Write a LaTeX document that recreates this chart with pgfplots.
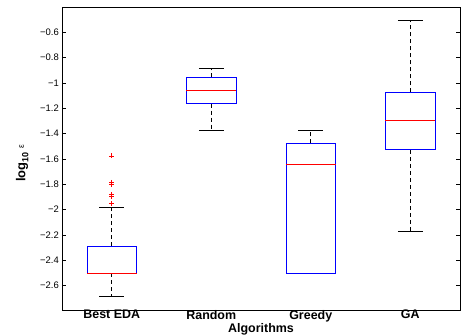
\documentclass[border=0pt]{standalone}
\usepackage{pgfplots}
\pgfplotsset{compat=1.18}
\usepgfplotslibrary{statistics}
\usepackage{fontspec}
\setmainfont{Liberation Sans}
\begin{document}
\begin{tikzpicture}
\begin{axis}[
  scale only axis,
  width=398bp, height=303bp,
  xmin=0.5, xmax=4.5,
  ymin=-2.792, ymax=-0.40,
  axis line style={line width=0.8bp},
  xtick={1,2,3,4},
  xticklabels={Best EDA,Random,Greedy,GA},
  xtick style={draw=none},
  xticklabel style={font=\fontsize{12.5}{12.5}\selectfont\bfseries, inner sep=0pt, yshift=0bp},
  ytick={-2.6,-2.4,-2.2,-2,-1.8,-1.6,-1.4,-1.2,-1,-0.8,-0.6},
  yticklabels={−2.6,−2.4,−2.2,−2,−1.8,−1.6,−1.4,−1.2,−1,−0.8,−0.6},
  yticklabel style={font=\fontsize{9.5}{9.5}\selectfont, inner sep=0pt, xshift=-3bp},
  ytick pos=both,
  tick align=inside,
  major tick length=4bp,
  ytick style={line width=0.6bp, black},
  xlabel={Algorithms},
  xlabel style={font=\fontsize{12.5}{12.5}\selectfont\bfseries, at={(axis description cs:0.5,0)}, anchor=north, inner sep=0pt, yshift=-13.5bp},
  ylabel={log\raisebox{-3bp}{\fontsize{9}{9}\selectfont 10} \raisebox{1.5bp}{\fontsize{8.5}{8.5}\selectfont\mdseries ε}},
  ylabel style={font=\fontsize{13}{13}\selectfont\bfseries, at={(axis description cs:-0.084,0.484)}, anchor=south, inner sep=0pt},
  boxplot/draw direction=y,
  boxplot/box extend=0.5,
  boxplot/whisker extend=0.25,
  boxplot/every box/.style={draw=blue, line width=0.75bp},
  boxplot/every median/.style={draw=red, line width=0.75bp},
  boxplot/draw/lower whisker/.code={%
    \draw[black, line width=0.75bp, dash pattern=on 4bp off 3bp]
      (boxplot cs:\pgfplotsboxplotvalue{lower quartile}) --
      (boxplot cs:\pgfplotsboxplotvalue{lower whisker});
    \draw[black, line width=0.75bp]
      (boxplot whisker cs:\pgfplotsboxplotvalue{lower whisker},0) --
      (boxplot whisker cs:\pgfplotsboxplotvalue{lower whisker},1);
  },
  boxplot/draw/upper whisker/.code={%
    \draw[black, line width=0.75bp, dash pattern=on 4bp off 3bp]
      (boxplot cs:\pgfplotsboxplotvalue{upper quartile}) --
      (boxplot cs:\pgfplotsboxplotvalue{upper whisker});
    \draw[black, line width=0.75bp]
      (boxplot whisker cs:\pgfplotsboxplotvalue{upper whisker},0) --
      (boxplot whisker cs:\pgfplotsboxplotvalue{upper whisker},1);
  },
]
\addplot[black, mark=+, mark size=2.5bp, mark options={red, solid, line width=0.6bp},
  boxplot prepared={draw position=1, lower whisker=-2.681, lower quartile=-2.502,
    median=-2.502, upper quartile=-2.287, upper whisker=-1.979}]
  coordinates {(0,-1.953) (0,-1.897) (0,-1.882) (0,-1.800) (0,-1.784) (0,-1.576)};
\addplot[black, mark=+, mark options={red},
  boxplot prepared={draw position=2, lower whisker=-1.371, lower quartile=-1.163,
    median=-1.058, upper quartile=-0.955, upper whisker=-0.884}]
  coordinates {};
\addplot[black, mark=+, mark options={red},
  boxplot prepared={draw position=3, lower whisker=-2.502, lower quartile=-2.502,
    median=-1.642, upper quartile=-1.476, upper whisker=-1.371}]
  coordinates {};
\addplot[black, mark=+, mark options={red},
  boxplot prepared={draw position=4, lower whisker=-2.171, lower quartile=-1.527,
    median=-1.292, upper quartile=-1.074, upper whisker=-0.508}]
  coordinates {};
\end{axis}
\pgfresetboundingbox
\useasboundingbox ([shift={(-62bp,-25bp)}]current axis.south west) rectangle ([shift={(1bp,7bp)}]current axis.north east);
\end{tikzpicture}
\end{document}
